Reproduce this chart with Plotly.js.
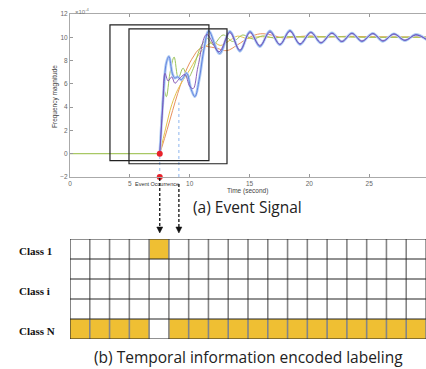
<!DOCTYPE html>
<html><head><meta charset="utf-8">
<script src="https://cdn.plot.ly/plotly-3.0.1.min.js"></script>
<style>html,body{margin:0;padding:0;background:#fff}#chart{width:426px;height:369px}</style>
</head><body><div id="chart"></div>
<script>
// ---------- (a) Event signal data (values in units of 1e-4) ----------
const baseT = [0, 7.5];
const baseV = [0, 0];

const orangeT = [7.5, 7.9, 8.35, 8.8, 9.2, 9.6, 10.0, 10.35, 10.7, 11.3, 11.8, 12.3, 13.1, 14.0, 15.0, 15.9, 16.8, 17.8, 18.8, 20.0, 21.5, 23.0, 25.0, 27.0, 29.8];
const orangeV = [0, 1.3, 2.9, 4.5, 5.8, 6.9, 7.8, 8.4, 8.9, 9.2, 9.15, 9.05, 8.85, 9.35, 10.0, 10.3, 10.2, 9.95, 10.02, 10.12, 10.02, 10.08, 10.05, 10.03, 10.02];

const yellowT = [7.5, 8.0, 8.5, 9.0, 9.5, 10.0, 10.5, 11.0, 11.5, 12.0, 12.6, 13.3, 14.0, 14.8, 15.8, 17.0, 19.0, 22.0, 25.0, 29.8];
const yellowV = [0, 2.2, 4.2, 5.5, 6.4, 7.2, 8.1, 8.85, 9.35, 9.55, 9.3, 9.7, 10.1, 9.9, 10.05, 9.98, 10.05, 10.05, 10.02, 10.0];

const greenT = [7.5, 7.7, 7.85, 8.05, 8.35, 8.7, 9.05, 9.45, 9.85, 10.3, 10.7, 11.1, 11.5, 11.95, 12.8, 13.6, 14.45, 15.3, 16.1, 17.0, 18.0, 20.0, 22.0, 25.0, 29.8];
const greenV = [0, 4.2, 5.5, 4.9, 6.9, 8.3, 6.5, 7.35, 6.5, 7.3, 8.6, 9.5, 9.9, 9.36, 10.2, 9.64, 10.2, 9.85, 10.12, 9.95, 10.05, 10.0, 10.05, 10.0, 10.02];

const blueT = [7.5, 7.8, 8.05, 8.27, 8.55, 8.75, 9.0, 9.3, 9.75, 10.1, 10.44, 10.8, 11.2, 11.6, 12.5, 13.37, 14.2, 15.04, 15.87, 16.71, 17.54, 18.38, 19.22, 20.13, 20.97, 21.89, 22.72, 23.56, 24.39, 25.31, 26.15, 27.07, 27.99, 28.9, 29.8];
const blueV = [0, 5.0, 7.8, 8.35, 6.9, 6.5, 6.6, 6.35, 6.92, 5.6, 4.9, 6.4, 9.0, 10.55, 8.6, 10.5, 8.8, 10.5, 9.2, 10.55, 9.35, 10.6, 9.38, 10.45, 9.5, 10.38, 9.62, 10.36, 9.64, 10.34, 9.66, 10.3, 9.72, 10.24, 9.8];

const purpleT = [7.5, 7.75, 7.94, 8.2, 8.5, 8.77, 9.1, 9.6, 10.0, 10.3, 10.7, 11.42, 12.45, 13.35, 14.2, 15.04, 15.87, 16.71, 17.54, 18.38, 19.22, 20.13, 20.97, 21.89, 22.72, 23.56, 24.39, 25.31, 26.15, 27.07, 27.99, 28.9, 29.8];
const purpleV = [0, 4.0, 6.9, 6.25, 6.6, 6.05, 6.4, 6.8, 5.8, 5.6, 7.5, 10.25, 8.75, 10.4, 8.9, 10.4, 9.3, 10.45, 9.4, 10.5, 9.45, 10.4, 9.55, 10.33, 9.65, 10.32, 9.68, 10.3, 9.7, 10.27, 9.75, 10.2, 9.8];

const eventTime = [7.5];
const markTime = [9.1];
const markValue = [4.4];
const xTicks = [0, 5, 10, 15, 20, 25, 30];
const yTicks = [-2, 0, 2, 4, 6, 8, 10, 12];

// ---------- (b) labeling grid ----------
const rowLabels = ['Class 1', '', 'Class i', '', 'Class N'];
const row1 = [0,0,0,0,1,0,0,0,0,0,0,0,0,0,0,0,0,0];
const row2 = [0,0,0,0,0,0,0,0,0,0,0,0,0,0,0,0,0,0];
const row3 = [0,0,0,0,0,0,0,0,0,0,0,0,0,0,0,0,0,0];
const row4 = [0,0,0,0,0,0,0,0,0,0,0,0,0,0,0,0,0,0];
const rowN = [1,1,1,1,0,1,1,1,1,1,1,1,1,1,1,1,1,1];

const W = 426, H = 369;
const px = x => x / W;
const py = y => 1 - y / H;

function sig(t, v, color, width, opacity) {
  return {type: 'scatter', mode: 'lines', x: t, y: v, xaxis: 'x', yaxis: 'y',
    line: {color: color, width: width, shape: 'spline', smoothing: 1}, opacity: opacity || 1, hoverinfo: 'skip'};
}

const nCols = row1.length, nRows = rowLabels.length;
const colIdx = row1.map((_, i) => i);
const rowIdx = rowLabels.map((_, i) => i);

const traces = [
  {type: 'heatmap', z: [row1, row2, row3, row4, rowN], x: colIdx, y: rowIdx, xaxis: 'x2', yaxis: 'y2',
   colorscale: [[0, '#ffffff'], [1, '#EFBF33']], zmin: 0, zmax: 1, showscale: false, hoverinfo: 'skip'},
  {type: 'scatter', mode: 'lines', x: baseT, y: baseV, xaxis: 'x', yaxis: 'y', line: {color: '#a8c864', width: 1.2}, hoverinfo: 'skip'},
  sig(orangeT, orangeV, '#E8915E', 1.0),
  sig(yellowT, yellowV, '#E4C24C', 1.0),
  sig(greenT, greenV, '#9CC45A', 1.0),
  sig(blueT, blueV, '#B3CEF4', 2.8),
  sig(blueT, blueV, '#6283E0', 1.0),
  sig(purpleT, purpleV, '#7B4BB0', 0.9),
  {type: 'scatter', mode: 'lines', x: [eventTime[0], eventTime[0]], y: [yTicks[0], 0], xaxis: 'x', yaxis: 'y',
   line: {color: '#8db6ee', width: 1, dash: 'dot'}, hoverinfo: 'skip'},
  {type: 'scatter', mode: 'lines', x: [markTime[0], markTime[0]], y: [yTicks[0], markValue[0]], xaxis: 'x', yaxis: 'y',
   line: {color: '#8db6ee', width: 1, dash: 'dot'}, hoverinfo: 'skip'},
  {type: 'scatter', mode: 'markers', x: [eventTime[0], eventTime[0]], y: [0, yTicks[0]], xaxis: 'x', yaxis: 'y',
   marker: {color: '#E8222A', size: 6}, cliponaxis: false, hoverinfo: 'skip'}
];

const shapes = [];
// sliding windows
shapes.push({type: 'rect', xref: 'x', yref: 'y', x0: 3.34, x1: 11.61, y0: -0.6, y1: 11.07, line: {color: '#222', width: 1.2}});
shapes.push({type: 'rect', xref: 'x', yref: 'y', x0: 4.93, x1: 13.12, y0: -0.86, y1: 10.73, line: {color: '#222', width: 1.2}});
// grid lines
for (let i = 0; i <= nCols; i++) {
  shapes.push({type: 'line', xref: 'x2', yref: 'y2', x0: i - 0.5, x1: i - 0.5, y0: -0.5, y1: nRows - 0.5,
    line: {color: i === 0 ? '#333' : '#858585', width: i === 0 ? 1.2 : 1.6}});
}
for (let r = 0; r <= nRows; r++) {
  shapes.push({type: 'line', xref: 'x2', yref: 'y2', x0: -0.5, x1: nCols - 0.5, y0: r - 0.5, y1: r - 0.5,
    line: {color: '#222', width: 1}});
}
// dashed arrows with triangular heads
const halfHead = 3 / 11.97;
[[eventTime[0], 178], [markTime[0], 184]].forEach(([t, top]) => {
  shapes.push({type: 'line', xref: 'x', yref: 'paper', x0: t, x1: t, y0: py(top), y1: py(228),
    line: {color: '#111', width: 1.3, dash: '3px,2px'}});
  shapes.push({type: 'path', xref: 'x', yref: 'paper',
    path: `M ${t - halfHead},${py(227)} L ${t + halfHead},${py(227)} L ${t},${py(233)} Z`,
    fillcolor: '#111', line: {color: '#111', width: 0.5}});
});
const annotations = [];
rowLabels.forEach((lab, r) => {
  if (!lab) return;
  annotations.push({xref: 'paper', yref: 'y2', x: px(17), y: r, xanchor: 'left', yanchor: 'middle', yshift: -1.5,
    text: '<b>' + lab + '</b>', showarrow: false, font: {family: 'Liberation Serif, Times New Roman, serif', size: 11, color: '#111'}});
});
annotations.push({xref: 'paper', yref: 'paper', x: px(73), y: py(11), xanchor: 'left', yanchor: 'middle',
  text: '×10<sup>-4</sup>', showarrow: false, font: {family: 'Liberation Sans, Arial', size: 6, color: '#777'}});
annotations.push({xref: 'paper', yref: 'paper', x: px(55), y: py(97), textangle: -90, xanchor: 'center', yanchor: 'middle',
  text: 'Frequency magnitude', showarrow: false, font: {family: 'Liberation Sans, Arial', size: 6.5, color: '#444'}});
annotations.push({xref: 'paper', yref: 'paper', x: px(248), y: py(191), xanchor: 'center', yanchor: 'middle',
  text: 'Time (second)', showarrow: false, font: {family: 'Liberation Sans, Arial', size: 6.5, color: '#444'}});
annotations.push({xref: 'paper', yref: 'paper', x: px(157), y: py(183.5), xanchor: 'center', yanchor: 'middle',
  text: 'Event Occurrence', showarrow: false, font: {family: 'Liberation Sans, Arial', size: 5.5, color: '#333'}});
annotations.push({xref: 'paper', yref: 'paper', x: px(248), y: py(207), xanchor: 'center', yanchor: 'middle',
  text: '(a) Event Signal', showarrow: false, font: {family: 'Open Sans, sans-serif', size: 15.5, color: '#222'}});
annotations.push({xref: 'paper', yref: 'paper', x: px(248.5), y: py(357), xanchor: 'center', yanchor: 'middle',
  text: '(b) Temporal information encoded labeling', showarrow: false, font: {family: 'Open Sans, sans-serif', size: 15.5, color: '#222'}});

const layout = {
  width: W, height: H, margin: {l: 0, r: 0, t: 0, b: 0}, paper_bgcolor: '#fff', plot_bgcolor: '#fff', showlegend: false,
  xaxis: {domain: [px(70), 1], range: [0, 29.75], tickvals: xTicks, ticks: 'inside', ticklen: 3, tickcolor: '#999',
    showline: true, linecolor: '#aaa', linewidth: 1, mirror: 'ticks', showgrid: false, zeroline: false,
    tickfont: {family: 'Liberation Sans, Arial', size: 6.5, color: '#666'}},
  yaxis: {domain: [py(177), py(14)], range: [-2, 12], tickvals: yTicks, ticks: 'inside', ticklen: 3, tickcolor: '#999',
    showline: true, linecolor: '#aaa', linewidth: 1, showgrid: false, zeroline: false,
    tickfont: {family: 'Liberation Sans, Arial', size: 6.5, color: '#666'}},
  xaxis2: {domain: [px(70), 1], range: [-0.5, nCols - 0.5], visible: false, anchor: 'y2'},
  yaxis2: {domain: [py(339), py(239)], range: [nRows - 0.5, -0.5], visible: false, anchor: 'x2'},
  shapes: shapes, annotations: annotations
};

Plotly.newPlot('chart', traces, layout, {staticPlot: true, displayModeBar: false});
</script></body></html>
